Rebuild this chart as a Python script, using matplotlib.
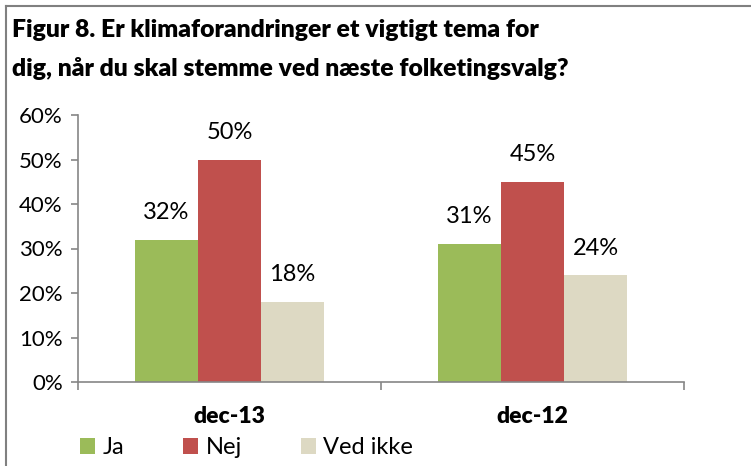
import matplotlib
matplotlib.use("Agg")
import matplotlib.pyplot as plt
import matplotlib.ticker as ticker
from matplotlib.lines import Line2D
from matplotlib.patches import Patch
import numpy as np

plt.rcParams["font.family"] = ["Lato", "DejaVu Sans"]

periods = ["dec-13", "dec-12"]
series = ["Ja", "Nej", "Ved ikke"]
ja = [32, 31]
nej = [50, 45]
ved_ikke = [18, 24]
yticks = [0, 10, 20, 30, 40, 50, 60]

COLORS = {"Ja": "#9BBB59", "Nej": "#C0504D", "Ved ikke": "#DDD9C3"}
AXIS_GREY = "#868686"

W, H = 751, 466
fig = plt.figure(figsize=(W / 100, H / 100), dpi=100)

# outer frame (left + top edge visible)
fig.add_artist(Line2D([6 / W, 6 / W], [0, 1 - 6 / H], color="#808080", lw=1.5))
fig.add_artist(Line2D([6 / W, 1], [1 - 6 / H, 1 - 6 / H], color="#808080", lw=1.5))

fig.text(12 / W, 1 - 30 / H, "Figur 8. Er klimaforandringer et vigtigt tema for",
         fontsize=17.8, fontweight="heavy", va="center", ha="left")
fig.text(12 / W, 1 - 68 / H, "dig, når du skal stemme ved næste folketingsvalg?",
         fontsize=17.8, fontweight="heavy", va="center", ha="left")

ax = fig.add_axes([78 / W, (H - 382) / H, (684 - 78) / W, (382 - 115) / H])

x = np.arange(len(periods))
bw = 63 / 303
for i, (name, vals) in enumerate(zip(series, [ja, nej, ved_ikke])):
    pos = x + (i - 1) * bw
    ax.bar(pos, vals, width=bw, color=COLORS[name], label=name, zorder=2)
    for p, v in zip(pos, vals):
        ax.annotate(f"{v}%", xy=(p, v), xytext=(0, 19.5), textcoords="offset points",
                    ha="center", va="center", fontsize=17)

ax.set_xlim(-0.5, 1.5)
ax.set_ylim(0, 60)
ax.set_yticks(yticks)
ax.yaxis.set_major_formatter(ticker.FuncFormatter(lambda v, _: f"{int(v)}%"))
ax.set_xticks(x)
ax.set_xticklabels(periods, fontsize=16.5, fontweight="heavy")
ax.set_xticks([-0.5, 0.5, 1.5], minor=True)
ax.tick_params(axis="x", which="major", length=0, pad=17)
ax.tick_params(axis="x", which="minor", length=6, color=AXIS_GREY, width=1.2)
ax.tick_params(axis="y", length=5, color=AXIS_GREY, width=1.2, labelsize=16, pad=6)

for s in ["top", "right"]:
    ax.spines[s].set_visible(False)
for s in ["left", "bottom"]:
    ax.spines[s].set_color(AXIS_GREY)
    ax.spines[s].set_linewidth(1.2)

handles = [Patch(facecolor=COLORS[n], label=n) for n in series]
fig.legend(handles=handles, loc="center left", bbox_to_anchor=(80 / W, 1 - 448 / H),
           ncol=3, frameon=False, fontsize=17, handlelength=0.65, handleheight=0.65,
           handletextpad=0.3, columnspacing=2.5, borderaxespad=0, borderpad=0)

fig.savefig("out.png", dpi=100)
